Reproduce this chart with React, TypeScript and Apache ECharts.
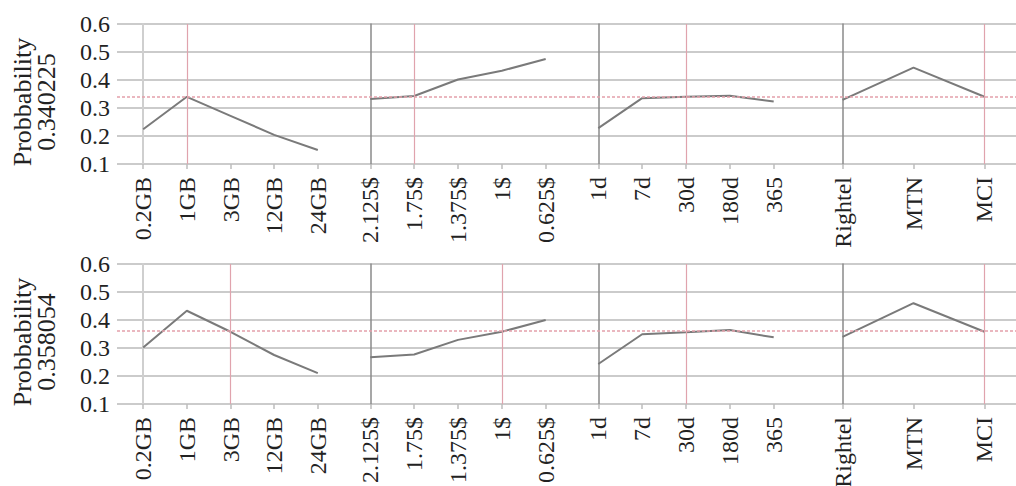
import React, { useEffect, useRef } from "react";
import * as echarts from "echarts";

// Categories of each factor panel
const dataCats = ["0.2GB", "1GB", "3GB", "12GB", "24GB"];
const priceCats = ["2.125$", "1.75$", "1.375$", "1$", "0.625$"];
const durationCats = ["1d", "7d", "30d", "180d", "365"];
const operatorCats = ["Rightel", "MTN", "MCI"];

// Row 1 (Probbability 0.340225)
const row1Data = [0.224, 0.34, 0.272, 0.204, 0.15];
const row1Price = [0.332, 0.343, 0.402, 0.433, 0.475];
const row1Duration = [0.228, 0.335, 0.34, 0.344, 0.323];
const row1Operator = [0.329, 0.444, 0.34];
const row1Prob = 0.340225;
const row1Selected = [1, 1, 2, 2];

// Row 2 (Probbability 0.358054)
const row2Data = [0.302, 0.433, 0.358, 0.275, 0.21];
const row2Price = [0.267, 0.277, 0.329, 0.358, 0.4];
const row2Duration = [0.243, 0.349, 0.356, 0.364, 0.338];
const row2Operator = [0.34, 0.46, 0.358];
const row2Prob = 0.358054;
const row2Selected = [2, 3, 2, 2];

const yTitle = "Probbability";

const FONT = "'Liberation Serif', 'Times New Roman', Times, serif";

export default function App() {
  const ref = useRef<HTMLDivElement>(null);

  useEffect(() => {
    if (!ref.current) return;
    const chart = echarts.init(ref.current, undefined, { renderer: "svg" });

    const catsList = [dataCats, priceCats, durationCats, operatorCats];
    const rows = [
      { vals: [row1Data, row1Price, row1Duration, row1Operator], prob: row1Prob, sel: row1Selected },
      { vals: [row2Data, row2Price, row2Duration, row2Operator], prob: row2Prob, sel: row2Selected },
    ];
    const colLeft = [117, 344, 572, 800];
    const colWidth = [227, 228, 228, 227];
    const rowTop = [24, 264];
    const rowHeight = 140;

    const grid: any[] = [];
    const xAxis: any[] = [];
    const yAxis: any[] = [];
    const series: any[] = [];
    const graphic: any[] = [];

    rows.forEach((row, r) => {
      catsList.forEach((cats, c) => {
        const idx = r * 4 + c;
        grid.push({
          left: colLeft[c],
          width: colWidth[c],
          top: rowTop[r],
          height: rowHeight,
          containLabel: false,
          outerBoundsMode: "none",
        });
        const n = cats.length;
        const idxs = cats.map((_, i) => i);
        xAxis.push({
          type: "value",
          gridIndex: idx,
          min: -0.6,
          max: n - 1 + 0.6,
          axisLine: { show: false },
          splitLine: { show: false },
          axisTick: {
            show: true,
            customValues: idxs,
            length: 5,
            lineStyle: { color: "#bdbdbd", width: 1.5 },
          },
          axisLabel: {
            show: true,
            customValues: idxs,
            rotate: 90,
            margin: 13,
            fontFamily: FONT,
            fontSize: 24,
            color: "#222",
            formatter: (v: number) => cats[Math.round(v)] ?? "",
          },
        });
        yAxis.push({
          type: "value",
          gridIndex: idx,
          min: 0.1,
          max: 0.6,
          interval: 0.1,
          axisLine: {
            show: true,
            lineStyle: c === 0 ? { color: "#cfcfcf", width: 2 } : { color: "#8a8a8a", width: 1.5 },
          },
          axisTick: { show: false },
          splitLine: { show: true, lineStyle: { color: "#cbcbcb", width: 2 } },
          axisLabel: {
            show: c === 0,
            margin: 7,
            fontFamily: FONT,
            fontSize: 24,
            color: "#222",
            formatter: (v: number) => v.toFixed(1),
          },
        });
        series.push({
          type: "line",
          xAxisIndex: idx,
          yAxisIndex: idx,
          data: row.vals[c].map((v, i) => [i, v]),
          showSymbol: false,
          symbol: "none",
          lineStyle: { color: "#7a7a7a", width: 2 },
          markLine: {
            silent: true,
            symbol: "none",
            label: { show: false },
            data: [
              { yAxis: row.prob, lineStyle: { color: "#e3a0aa", width: 1.5, type: [3, 2] } },
              { xAxis: row.sel[c], lineStyle: { color: "#e0a3ad", width: 1.2, type: "solid" } },
            ],
          },
        });
      });
      graphic.push({
        type: "text",
        x: 34,
        y: rowTop[r] + rowHeight / 2 + 8,
        rotation: Math.PI / 2,
        style: {
          text: yTitle + "\n" + String(row.prob),
          font: `26px ${FONT}`,
          fill: "#222",
          align: "center",
          verticalAlign: "middle",
          lineHeight: 24,
        },
      });
    });

    chart.setOption({
      animation: false,
      backgroundColor: "#ffffff",
      grid,
      xAxis,
      yAxis,
      series,
      graphic,
    });

    return () => chart.dispose();
  }, []);

  return (
    <div
      ref={ref}
      style={{ position: "fixed", left: 0, top: 0, width: 1016, height: 486 }}
    />
  );
}
